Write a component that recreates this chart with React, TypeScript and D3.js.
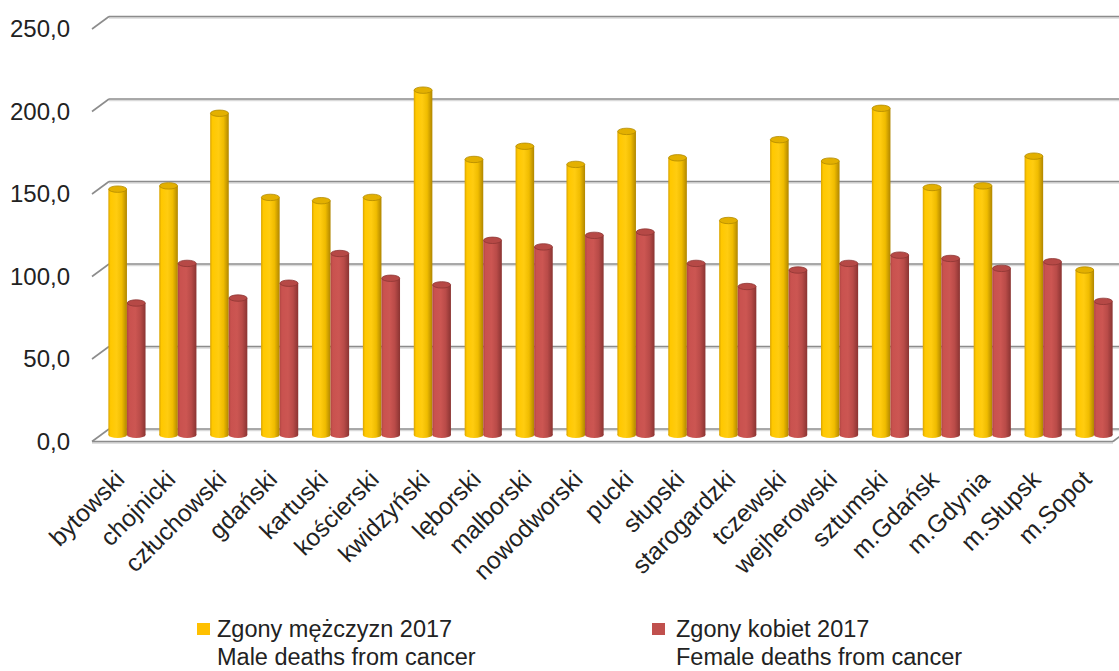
import React from "react";
import * as d3 from "d3";

const categories = [
  "bytowski", "chojnicki", "człuchowski", "gdański", "kartuski", "kościerski",
  "kwidzyński", "lęborski", "malborski", "nowodworski", "pucki", "słupski",
  "starogardzki", "tczewski", "wejherowski", "sztumski", "m.Gdańsk", "m.Gdynia",
  "m.Słupsk", "m.Sopot",
];
const maleValues = [149, 151, 195, 144, 142, 144, 209, 167, 175, 164, 184, 168, 130, 179, 166, 198, 150, 151, 169, 100];
const femaleValues = [80, 104, 83, 92, 110, 95, 91, 118, 114, 121, 123, 104, 90, 100, 104, 109, 107, 101, 105, 81];
const yTicks = [0, 50, 100, 150, 200, 250];
const seriesNames = ["Zgony mężczyzn 2017", "Zgony kobiet 2017"];
const seriesSubNames = ["Male deaths from cancer", "Female deaths from cancer"];
const seriesKeys = ["M", "F"];

const W = 1119;
const H = 671;
const FONT = "'Liberation Sans', Arial, sans-serif";

// 3D projection offsets
const DEPTH_DX = 17;
const DEPTH_DY = 12.5;

const yBack = d3.scaleLinear().domain([0, 250]).range([429, 16.5]);
const yBar = d3.scaleLinear().domain([0, 250]).range([435, 22.5]);
const x0 = d3.scaleBand<string>().domain(categories).range([101.5, 1119.5]).paddingInner(0.27).paddingOuter(0.135);
const x1 = d3.scaleBand<string>().domain(seriesKeys).range([0, x0.bandwidth()]);

const fmt = (v: number) => d3.format(".1f")(v).replace(".", ",");

const palette: Record<string, { grad: string; top: string; topStroke: string; legend: string }> = {
  M: { grad: "gradM", top: "#E3B000", topStroke: "#B38A00", legend: "#FFC000" },
  F: { grad: "gradF", top: "#B64946", topStroke: "#8E3633", legend: "#C0504D" },
};

function Cylinder({ x, w, v, k }: { x: number; w: number; v: number; k: string }) {
  const ty = yBar(v);
  const by = yBar(0);
  const cx = x + w / 2;
  const rx = w / 2;
  const p = palette[k];
  return (
    <g>
      <ellipse cx={cx} cy={by} rx={rx} ry={3} fill={`url(#${p.grad})`} />
      <rect x={x} y={ty} width={w} height={by - ty} fill={`url(#${p.grad})`} />
      <ellipse cx={cx} cy={ty} rx={rx - 0.3} ry={3.2} fill={p.top} stroke={p.topStroke} strokeWidth={0.8} />
    </g>
  );
}

export default function App() {
  const frontLeftX = 109 - DEPTH_DX;
  const rightX = 1119;
  return (
    <svg width={W} height={H} style={{ position: "absolute", left: 0, top: 0, background: "#fff" }}>
      <defs>
        <linearGradient id="gradM" x1="0" x2="1" y1="0" y2="0">
          <stop offset="0" stopColor="#D9A300" />
          <stop offset="0.12" stopColor="#FFC800" />
          <stop offset="0.45" stopColor="#FFCC10" />
          <stop offset="0.72" stopColor="#F0BC00" />
          <stop offset="1" stopColor="#B08600" />
        </linearGradient>
        <linearGradient id="gradF" x1="0" x2="1" y1="0" y2="0">
          <stop offset="0" stopColor="#B04542" />
          <stop offset="0.12" stopColor="#C9524F" />
          <stop offset="0.45" stopColor="#CC5652" />
          <stop offset="0.72" stopColor="#B94B48" />
          <stop offset="1" stopColor="#8A3432" />
        </linearGradient>
      </defs>

      {/* back wall gridlines */}
      {yTicks.map((t) => (
        <g key={t}>
          <line x1={109} x2={rightX} y1={yBack(t) + 1.5} y2={yBack(t) + 1.5} stroke="#DADADA" strokeWidth={1.5} />
          <line x1={109} x2={rightX} y1={yBack(t)} y2={yBack(t)} stroke="#8C8C8C" strokeWidth={1.6} />
          <line x1={frontLeftX} y1={yBack(t) + DEPTH_DY} x2={109} y2={yBack(t)} stroke="#8C8C8C" strokeWidth={1.6} />
        </g>
      ))}

      {/* bars */}
      {categories.map((c, i) => (
        <g key={c}>
          <Cylinder x={(x0(c) as number) + (x1("M") as number)} w={x1.bandwidth()} v={maleValues[i]} k="M" />
          <Cylinder x={(x0(c) as number) + (x1("F") as number)} w={x1.bandwidth()} v={femaleValues[i]} k="F" />
        </g>
      ))}

      {/* floor front edge */}
      <line x1={frontLeftX} x2={1113} y1={yBack(0) + DEPTH_DY + 1.5} y2={yBack(0) + DEPTH_DY + 1.5} stroke="#D5D5D5" strokeWidth={1.5} />
      <line x1={frontLeftX} x2={1113} y1={yBack(0) + DEPTH_DY} y2={yBack(0) + DEPTH_DY} stroke="#8C8C8C" strokeWidth={1.6} />
      <line x1={1113} x2={1113 + DEPTH_DX} y1={yBack(0) + DEPTH_DY} y2={yBack(0)} stroke="#8C8C8C" strokeWidth={1.6} />

      {/* y-axis labels */}
      {yTicks.map((t) => (
        <text key={t} x={70} y={yBack(t) + DEPTH_DY} dy="0.35em" textAnchor="end" fontFamily={FONT} fontSize={24} fill="#222">
          {fmt(t)}
        </text>
      ))}

      {/* x-axis labels */}
      {categories.map((c) => {
        const cx = (x0(c) as number) + x0.bandwidth() / 2;
        return (
          <text key={c} transform={`translate(${cx - 1},${481}) rotate(-45)`} textAnchor="end" fontFamily={FONT} fontSize={24.5} fill="#222">
            {c}
          </text>
        );
      })}

      {/* legend */}
      {seriesKeys.map((k, i) => {
        const sx = i === 0 ? 197 : 652;
        const tx = i === 0 ? 217 : 676;
        return (
          <g key={k}>
            <rect x={sx} y={623} width={13} height={12} fill={palette[k].legend} />
            <text x={tx} y={637} fontFamily={FONT} fontSize={23.5} fill="#222">{seriesNames[i]}</text>
            <text x={tx} y={665} fontFamily={FONT} fontSize={23.5} fill="#222">{seriesSubNames[i]}</text>
          </g>
        );
      })}
    </svg>
  );
}
